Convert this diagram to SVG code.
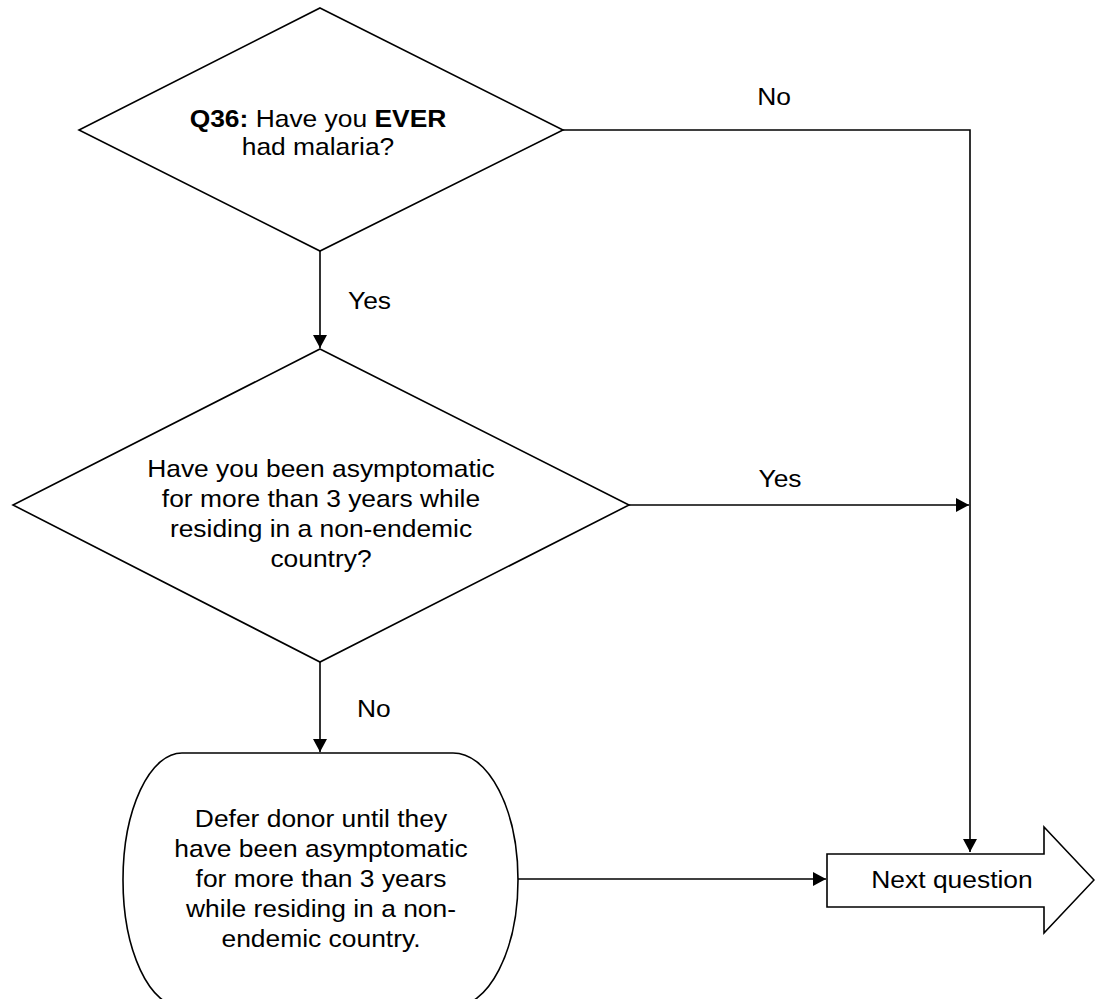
<svg xmlns="http://www.w3.org/2000/svg" width="1095" height="999" viewBox="0 0 1095 999">
<style>
.shape{fill:#fff;stroke:#000;stroke-width:1.6;stroke-linejoin:miter}
.conn{fill:none;stroke:#000;stroke-width:1.6}
text{font-family:"Liberation Sans",Arial,sans-serif;font-size:24px;fill:#000}
.c{text-anchor:middle}
.b{font-weight:bold}
</style>
<defs>
<marker id="ah" markerUnits="userSpaceOnUse" markerWidth="14" markerHeight="14" refX="13" refY="7" orient="auto">
<path d="M0,0 L13,7 L0,14 Z" fill="#000"/>
</marker>
</defs>
<rect width="1095" height="999" fill="#fff"/>
<g id="connectors">
<polyline class="conn" points="563,130 970,130 970,852" marker-end="url(#ah)"/>
<line class="conn" x1="629" y1="505" x2="969" y2="505" marker-end="url(#ah)"/>
<line class="conn" x1="320" y1="251" x2="320" y2="348" marker-end="url(#ah)"/>
<line class="conn" x1="320" y1="662" x2="320" y2="752" marker-end="url(#ah)"/>
<line class="conn" x1="518" y1="879" x2="826" y2="879" marker-end="url(#ah)"/>
<text class="c" transform="matrix(1.1,0,0,1,774,0)" x="0" y="105">No</text>
<text class="c" transform="matrix(1.1,0,0,1,780,0)" x="0" y="487">Yes</text>
<text transform="matrix(1.1,0,0,1,348,0)" x="0" y="309">Yes</text>
<text transform="matrix(1.1,0,0,1,357,0)" x="0" y="717">No</text>
</g>
<g id="q36">
<polygon class="shape" points="320,8 563,130 320,251 79,130"/>
<text class="c" transform="matrix(1.1,0,0,1,318,0)" x="0" y="127"><tspan class="b">Q36:</tspan> Have you <tspan class="b">EVER</tspan></text>
<text class="c" transform="matrix(1.1,0,0,1,318,0)" x="0" y="155">had malaria?</text>
</g>
<g id="asymptomatic">
<polygon class="shape" points="320,349 629,505 320,662 13,505"/>
<text class="c" transform="matrix(1.1,0,0,1,321,0)" x="0" y="477">Have you been asymptomatic</text>
<text class="c" transform="matrix(1.1,0,0,1,321,0)" x="0" y="507">for more than 3 years while</text>
<text class="c" transform="matrix(1.1,0,0,1,321,0)" x="0" y="537">residing in a non-endemic</text>
<text class="c" transform="matrix(1.1,0,0,1,321,0)" x="0" y="567">country?</text>
</g>
<g id="defer">
<path class="shape" d="M182,753 L453,753 A65,127 0 0 1 453,1007 L182,1007 A59,127 0 0 1 182,753 Z"/>
<text class="c" transform="matrix(1.1,0,0,1,321,0)" x="0" y="827">Defer donor until they</text>
<text class="c" transform="matrix(1.1,0,0,1,321,0)" x="0" y="857">have been asymptomatic</text>
<text class="c" transform="matrix(1.1,0,0,1,321,0)" x="0" y="887">for more than 3 years</text>
<text class="c" transform="matrix(1.1,0,0,1,321,0)" x="0" y="917">while residing in a non-</text>
<text class="c" transform="matrix(1.1,0,0,1,321,0)" x="0" y="947">endemic country.</text>
</g>
<g id="next">
<polygon class="shape" points="827,854 1044,854 1044,827 1094,880 1044,933 1044,907 827,907"/>
<text class="c" transform="matrix(1.1,0,0,1,952,0)" x="0" y="888">Next question</text>
</g>
</svg>
